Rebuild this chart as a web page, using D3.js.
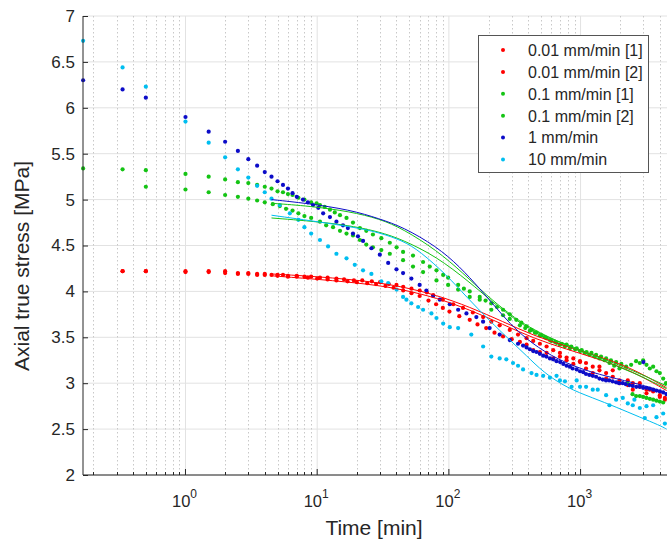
<!DOCTYPE html>
<html><head><meta charset="utf-8">
<script src="https://cdn.jsdelivr.net/npm/d3@7"></script>
<style>body{margin:0;background:#fff}svg{display:block;font-family:"Liberation Sans",Arial,Helvetica,sans-serif}</style>
</head><body><svg id="c" width="667" height="541"></svg>
<script>
// ---------- data ----------
const seriesNames = ["0.01 mm/min [1]","0.01 mm/min [2]","0.1 mm/min [1]","0.1 mm/min [2]","1 mm/min","10 mm/min"];
const seriesColors = ["#ff0000","#ff0000","#14c414","#14c414","#0c0cc8","#00bef0"];

// [time (min), axial true stress (MPa)]
const red1 = [[0.333,4.22],[0.5,4.22],[1,4.22],[1.5,4.22],[2,4.22],[2.5,4.2],[3,4.2],[3.5,4.19],[4,4.19],[4.5,4.18],[5,4.18],[5.5,4.18],[6,4.17],[7,4.17],[8,4.16],[9,4.16],[10.5,4.15],[12,4.15],[14,4.14],[16,4.13],[19,4.12],[22,4.12],[26,4.11],[30,4.1],[35,4.08],[40,4.07],[45,4.05],[52,4.03],[60,4.01],[68,3.99],[76,3.96],[90,3.91],[108,3.86],[128,3.82],[152,3.77],[182,3.72],[210,3.67],[243,3.63],[290,3.58],[335,3.53],[389,3.49],[437,3.46],[491,3.43],[552,3.4],[620,3.36],[697,3.33],[783,3.28],[881,3.27],[990,3.24],[1100,3.22],[1237,3.18],[1391,3.18],[1563,3.11],[1756,3.14],[1974,3.03],[2283,3.03],[2492,2.93],[2817,3.0],[3165,2.89],[3355,2.93],[3997,2.85],[4366,2.82]];
const red2 = [[0.333,4.22],[0.5,4.22],[1,4.21],[1.5,4.21],[2,4.2],[2.5,4.19],[3,4.19],[3.5,4.18],[4,4.18],[5,4.17],[6,4.16],[7,4.16],[8.5,4.15],[10,4.14],[12,4.13],[14,4.12],[17,4.11],[20,4.1],[24,4.09],[28,4.08],[33,4.06],[38,4.04],[45,4.01],[52,3.98],[60,3.95],[70,3.9],[80,3.86],[90,3.82],[101,3.78],[120,3.73],[144,3.69],[165,3.64],[192,3.6],[222,3.55],[258,3.51],[300,3.48],[346,3.45],[389,3.42],[437,3.36],[491,3.34],[552,3.33],[620,3.27],[697,3.29],[783,3.25],[881,3.21],[990,3.23],[1100,3.16],[1237,3.11],[1391,3.14],[1563,3.05],[1756,3.07],[1974,3.0],[2283,2.98],[2492,3.0],[2817,2.96],[3165,2.93],[3557,2.91],[3997,2.87],[4366,2.84]];
const green1 = [[0.167,5.34],[0.333,5.33],[0.5,5.32],[1,5.28],[1.5,5.25],[2,5.22],[2.5,5.19],[3,5.18],[3.5,5.16],[4,5.14],[4.5,5.12],[5,5.09],[5.5,5.08],[6,5.06],[6.5,5.05],[7.2,5.02],[8,5.0],[9,4.97],[9.9,4.96],[10.5,4.94],[11.4,4.92],[12.5,4.89],[13.6,4.86],[14.9,4.83],[16.7,4.8],[18.7,4.75],[21.1,4.69],[23.6,4.66],[26.5,4.62],[30.7,4.58],[35.6,4.53],[40.1,4.48],[44.9,4.43],[53.4,4.39],[63.7,4.32],[71.6,4.27],[80.5,4.23],[90.5,4.18],[98.7,4.15],[117.6,4.07],[130,4.03],[144,4.0],[171.5,3.94],[190,3.9],[210,3.87],[232,3.83],[258,3.8],[290,3.75],[325,3.69],[355,3.66],[389,3.62],[425,3.58],[463,3.55],[505,3.52],[552,3.49],[600,3.46],[657,3.44],[720,3.43],[783,3.42],[850,3.4],[934,3.38],[1020,3.36],[1110,3.34],[1210,3.33],[1312,3.31],[1430,3.29],[1563,3.27],[1700,3.25],[1862,3.23],[2040,3.21],[2220,3.18],[2420,3.2],[2640,3.24],[2817,3.22],[2986,3.25],[3165,3.2],[3355,3.16],[3557,3.18],[3770,3.13],[3997,3.11],[4237,3.05],[4450,3.0]];
const green2 = [[0.5,5.14],[1,5.11],[1.5,5.08],[2,5.05],[2.5,5.03],[3,5.01],[3.5,4.99],[4,4.97],[4.6,4.95],[5.2,4.93],[5.8,4.9],[6.5,4.88],[7.2,4.85],[8,4.82],[9,4.8],[10.5,4.76],[11.7,4.72],[13.2,4.7],[14.9,4.66],[16.7,4.63],[18.7,4.61],[21.1,4.56],[23.6,4.51],[26.5,4.48],[30.7,4.45],[35.6,4.41],[44.9,4.34],[53.4,4.27],[63.7,4.21],[80.5,4.12],[98.7,4.07],[117.6,4.02],[144,3.94],[171.5,3.91],[210,3.8],[258,3.74],[290,3.7],[346,3.63],[380,3.6],[412,3.57],[450,3.55],[491,3.52],[535,3.5],[585,3.47],[640,3.45],[697,3.42],[760,3.4],[830,3.38],[910,3.37],[990,3.35],[1080,3.33],[1167,3.31],[1280,3.29],[1391,3.27],[1520,3.25],[1657,3.22],[1800,3.19],[1974,3.16],[2270,3.0],[2480,2.88],[2640,2.86],[2817,2.86],[2986,2.85],[3165,2.84],[3355,2.83],[3557,2.82],[3770,2.81],[3997,2.8],[4237,2.79]];
const blue = [[0.167,6.3],[0.333,6.2],[0.5,6.11],[1,5.9],[1.5,5.74],[2,5.63],[2.5,5.53],[3,5.44],[3.5,5.37],[4,5.3],[4.5,5.25],[5,5.2],[5.5,5.16],[6,5.12],[6.5,5.07],[7,5.03],[7.8,5.0],[8.5,4.97],[9.3,4.94],[10.2,4.91],[11.1,4.85],[12.5,4.81],[14,4.76],[15.7,4.72],[17.1,4.69],[18.7,4.63],[20.4,4.6],[22.3,4.55],[25.8,4.47],[29.9,4.4],[34.6,4.31],[40,4.24],[44.9,4.2],[51.9,4.14],[60,4.07],[67.5,4.01],[75.9,3.95],[85.3,3.91],[101.6,3.86],[117.6,3.8],[136,3.76],[161.7,3.72],[181.9,3.67],[204,3.6],[243,3.53],[290,3.47],[335,3.43],[366,3.41],[389,3.39],[412,3.37],[437,3.35],[463,3.34],[491,3.32],[520,3.3],[550,3.29],[585,3.27],[620,3.26],[657,3.24],[700,3.23],[740,3.21],[783,3.19],[830,3.18],[870,3.16],[934,3.15],[990,3.13],[1049,3.12],[1100,3.1],[1167,3.09],[1237,3.08],[1312,3.07],[1391,3.05],[1474,3.04],[1560,3.03],[1650,3.03],[1750,3.02],[1860,3.01],[1960,3.0],[2090,3.0],[2200,2.99],[2350,2.98],[2490,2.97],[2650,2.96],[2817,2.96],[2986,2.95],[3000,3.23],[3165,2.95],[3350,2.94],[3560,2.93],[3770,2.92],[4000,2.91],[4240,2.9],[4500,2.88]];
const cyan = [[0.167,6.73],[0.333,6.44],[0.5,6.23],[1,5.85],[1.5,5.62],[2,5.46],[2.5,5.33],[3,5.24],[3.5,5.15],[4,5.08],[4.5,5.01],[5.2,4.94],[6.2,4.85],[7.2,4.78],[8,4.7],[9,4.63],[10.5,4.56],[12.1,4.49],[14,4.41],[16.7,4.36],[19.3,4.29],[22.3,4.23],[25.8,4.19],[30.7,4.11],[34.6,4.09],[40.1,4.02],[44.9,3.94],[47.6,3.91],[51.9,3.87],[58.4,3.83],[63.7,3.8],[73.7,3.76],[80.5,3.71],[90.5,3.65],[101.6,3.61],[117.6,3.6],[148,3.53],[182,3.4],[210,3.29],[243,3.27],[273,3.26],[307,3.22],[335,3.19],[366,3.15],[424,3.11],[463,3.09],[520,3.08],[585,3.06],[657,3.08],[697,3.03],[761,3.02],[855,2.96],[934,3.03],[990,2.96],[1101,2.96],[1237,2.93],[1350,2.93],[1563,2.87],[1657,2.76],[1862,2.82],[2092,2.84],[2283,2.78],[2492,2.76],[2563,2.82],[2817,2.73],[3075,2.62],[3165,2.75],[3557,2.76],[3770,2.63],[4237,2.67],[4366,2.56]];
const seriesData = [red1, red2, green1, green2, blue, cyan];

// fitted curves [time, stress]
const fitRed1 = [[4.5,4.19],[10.5,4.16],[25,4.11],[44.9,4.05],[80.5,3.96],[144,3.83],[258,3.67],[437,3.52],[783,3.4],[1391,3.29],[2492,3.16],[4500,2.95]];
const fitRed2 = [[4.5,4.17],[10.5,4.13],[25,4.08],[44.9,4.02],[80.5,3.93],[144,3.8],[258,3.64],[437,3.49],[783,3.37],[1391,3.26],[2492,3.13],[4500,2.92]];
const fitGreen1 = [[4.5,4.96],[8.8,4.93],[17.7,4.87],[29.9,4.79],[44.9,4.68],[80.5,4.45],[128,4.2],[192,3.96],[290,3.75],[412,3.6],[783,3.41],[1391,3.26],[2492,3.12],[4500,2.94]];
const fitGreen2 = [[4.5,4.8],[14.9,4.74],[29.9,4.65],[44.9,4.56],[80.5,4.38],[144,4.1],[216,3.88],[290,3.74],[412,3.58],[783,3.42],[1391,3.28],[2492,3.14],[4500,2.97]];
const fitBlue = [[4.5,5.0],[8.3,4.96],[17.7,4.89],[29.9,4.79],[44.9,4.7],[80.5,4.49],[121,4.27],[171.5,4.03],[229,3.82],[290,3.65],[389,3.48],[585,3.3],[1049,3.14],[1862,3.05],[3355,2.96],[4500,2.89]];
const fitCyan = [[4.5,4.83],[17.7,4.71],[29.9,4.64],[44.9,4.55],[60,4.44],[96,4.18],[136,3.94],[204,3.68],[290,3.47],[389,3.3],[520,3.12],[783,2.95],[1237,2.84],[1862,2.74],[2817,2.63],[4000,2.54],[4500,2.5]];
const fitData = [fitRed1, fitRed2, fitGreen1, fitGreen2, fitBlue, fitCyan];

const yTicks = [2,2.5,3,3.5,4,4.5,5,5.5,6,6.5,7];
const xMajor = [1,10,100,1000];
const xMajorLabels = ["0","1","2","3"];
const xLabel = "Time [min]";
const yLabel = "Axial true stress [MPa]";

// ---------- drawing ----------
const svg = d3.select("#c");
const L = 83, R = 666.6, T = 16, B = 475;
const x = d3.scaleLog().domain([1/6, 4500]).range([L, R]);
const y = d3.scaleLinear().domain([2, 7]).range([B, T]);
const ink = "#262626";

const minor = [];
[0.1,1,10,100,1000].forEach(d => { for (let k=2;k<=9;k++){ const v=d*k; if (v>1/6 && v<4500) minor.push(v);} });

const g = svg.append("g");
g.selectAll("line.hg").data(yTicks).join("line")
  .attr("x1",L).attr("x2",667).attr("y1",d=>y(d)).attr("y2",d=>y(d))
  .attr("stroke","#e2e2e2").attr("stroke-width",1);
g.selectAll("line.vmin").data(minor).join("line")
  .attr("x1",d=>Math.round(x(d))+0.5).attr("x2",d=>Math.round(x(d))+0.5).attr("y1",T).attr("y2",B)
  .attr("stroke","#c8c8c8").attr("stroke-width",1).attr("stroke-dasharray","1.5,2.5");
g.selectAll("line.vmaj").data(xMajor).join("line")
  .attr("x1",d=>x(d)).attr("x2",d=>x(d)).attr("y1",T).attr("y2",B)
  .attr("stroke","#e2e2e2").attr("stroke-width",1);

const pts = svg.append("g");
seriesData.forEach((s,i) => {
  pts.append("g").selectAll("circle").data(s).join("circle")
    .attr("cx",d=>x(d[0])).attr("cy",d=>y(d[1])).attr("r",2.1)
    .attr("fill",seriesColors[i]);
});

const line = d3.line().x(d=>x(d[0])).y(d=>y(d[1])).curve(d3.curveBasis);
fitData.forEach((f,i) => {
  svg.append("path").datum(f).attr("d",line).attr("fill","none")
    .attr("stroke",seriesColors[i]).attr("stroke-width",1);
});

const yAxis = d3.axisLeft(y).tickValues(yTicks).tickSize(-5).tickPadding(8).tickFormat(d3.format("~g"));
const ya = svg.append("g").attr("transform",`translate(${L},0)`).call(yAxis);
ya.select(".domain").attr("stroke",ink).attr("d",`M0,${T}V${B}`);
ya.selectAll(".tick line").attr("stroke",ink);
ya.selectAll(".tick text").attr("fill",ink).style("font-size","17px").style("font-family","'Liberation Sans',Arial,sans-serif");

const xa = svg.append("g");
xa.append("line").attr("x1",L).attr("x2",667).attr("y1",B).attr("y2",B).attr("stroke",ink);
xa.selectAll("line.mt").data(xMajor).join("line")
  .attr("x1",d=>x(d)).attr("x2",d=>x(d)).attr("y1",B).attr("y2",B-6).attr("stroke",ink);
xa.selectAll("line.nt").data(minor).join("line")
  .attr("x1",d=>Math.round(x(d))+0.5).attr("x2",d=>Math.round(x(d))+0.5).attr("y1",B).attr("y2",B-3).attr("stroke",ink);
const xt = xa.selectAll("text.xl").data(xMajor).join("text")
  .attr("x",d=>x(d)-1).attr("y",507).attr("text-anchor","middle").attr("fill",ink)
  .style("font-size","16.5px");
xt.append("tspan").text("10");
xt.append("tspan").attr("dy",-9).style("font-size","12px").text((d,i)=>xMajorLabels[i]);

svg.append("text").attr("x",374).attr("y",534.5).attr("text-anchor","middle").attr("fill",ink)
  .style("font-size","21px").text(xLabel);
svg.append("text").attr("transform","translate(28.5,266) rotate(-90)").attr("text-anchor","middle").attr("fill",ink)
  .style("font-size","21px").text(yLabel);

const lg = svg.append("g");
lg.append("rect").attr("x",478.5).attr("y",35.5).attr("width",170).attr("height",137)
  .attr("fill","#fff").attr("stroke","#555").attr("stroke-width",1);
seriesNames.forEach((n,i) => {
  const cy = 50 + i*21.9;
  lg.append("circle").attr("cx",503).attr("cy",cy).attr("r",2).attr("fill",seriesColors[i]);
  lg.append("text").attr("x",528).attr("y",cy+5.8).attr("fill",ink).style("font-size","16px").text(n);
});
</script></body></html>
